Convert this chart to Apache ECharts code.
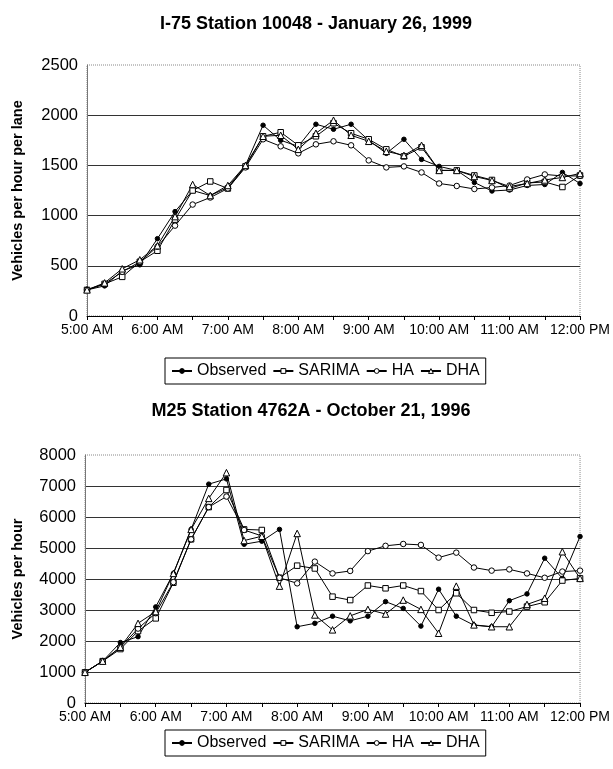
<!DOCTYPE html>
<html>
<head>
<meta charset="utf-8">
<script src="https://cdn.jsdelivr.net/npm/echarts@6/dist/echarts.min.js"></script>
<style>
html,body{margin:0;padding:0;background:#fff;}
#c{width:613px;height:769px;}
</style>
</head>
<body>
<div id="c"></div>
<script>
const times = ['5:00 AM','5:15 AM','5:30 AM','5:45 AM','6:00 AM','6:15 AM','6:30 AM','6:45 AM','7:00 AM','7:15 AM','7:30 AM','7:45 AM','8:00 AM','8:15 AM','8:30 AM','8:45 AM','9:00 AM','9:15 AM','9:30 AM','9:45 AM','10:00 AM','10:15 AM','10:30 AM','10:45 AM','11:00 AM','11:15 AM','11:30 AM','11:45 AM','12:00 PM'];

// I-75 Station 10048 - January 26, 1999
const i75Observed = [260, 300, 450, 510, 770, 1040, 1250, 1200, 1280, 1500, 1900, 1750, 1690, 1910, 1860, 1910, 1750, 1620, 1760, 1560, 1490, 1450, 1330, 1245, 1255, 1300, 1310, 1430, 1320];
const i75Sarima   = [260, 320, 390, 540, 650, 960, 1250, 1340, 1270, 1490, 1790, 1830, 1700, 1790, 1920, 1820, 1760, 1660, 1590, 1680, 1450, 1450, 1400, 1355, 1270, 1325, 1335, 1285, 1400];
const i75HA       = [260, 320, 440, 540, 690, 900, 1110, 1180, 1270, 1480, 1760, 1690, 1620, 1710, 1740, 1700, 1550, 1480, 1490, 1430, 1320, 1295, 1265, 1280, 1300, 1360, 1410, 1395, 1395];
const i75DHA      = [260, 330, 470, 560, 700, 990, 1310, 1200, 1300, 1500, 1790, 1800, 1660, 1820, 1950, 1800, 1740, 1640, 1600, 1700, 1450, 1450, 1390, 1350, 1290, 1320, 1355, 1380, 1420];

// M25 Station 4762A - October 21, 1996
const m25Observed = [990, 1350, 1950, 2140, 3100, 4180, 5600, 7060, 7230, 5120, 5220, 5600, 2460, 2570, 2800, 2650, 2800, 3270, 3050, 2480, 3670, 2800, 2510, 2460, 3300, 3520, 4670, 4020, 5370];
const m25Sarima   = [990, 1350, 1740, 2320, 2730, 3880, 5280, 6320, 6870, 5600, 5580, 4040, 4430, 4340, 3430, 3320, 3790, 3700, 3790, 3610, 3000, 3540, 3000, 2910, 2950, 3110, 3250, 3950, 4020];
const m25HA       = [990, 1350, 1800, 2400, 2900, 3900, 5280, 6320, 6660, 5580, 5390, 4040, 3860, 4560, 4180, 4260, 4900, 5070, 5130, 5100, 4690, 4850, 4370, 4270, 4310, 4180, 4040, 4240, 4270];
const m25DHA      = [990, 1350, 1800, 2570, 2950, 4180, 5600, 6600, 7430, 5240, 5380, 3770, 5470, 2840, 2360, 2810, 3020, 2870, 3320, 3020, 2250, 3770, 2520, 2460, 2460, 3180, 3380, 4880, 4020];

const seriesNames = ['Observed', 'SARIMA', 'HA', 'DHA'];
const yTop = {min: 0, max: 2500, interval: 500};
const yBot = {min: 0, max: 8000, interval: 1000};

const FONT = '"Liberation Sans", Arial, sans-serif';
const symbols = {
  'Observed': {symbol: 'circle', symbolSize: 4.5, fill: '#000'},
  'SARIMA': {symbol: 'rect', symbolSize: 5.5, fill: '#fff'},
  'HA': {symbol: 'circle', symbolSize: 5.5, fill: '#fff'},
  'DHA': {symbol: 'triangle', symbolSize: 6.5, fill: '#fff'}
};

function mkSeries(name, data, idx) {
  const s = symbols[name];
  return {
    name: name, type: 'line', data: data,
    xAxisIndex: idx, yAxisIndex: idx,
    symbol: s.symbol, symbolSize: s.symbolSize, showAllSymbol: true,
    lineStyle: {color: '#000', width: 1},
    itemStyle: {color: s.fill, borderColor: '#000', borderWidth: 1},
    emphasis: {disabled: true}
  };
}

function xAxis(gridIndex) {
  return {
    type: 'category', gridIndex: gridIndex, data: times, boundaryGap: false,
    axisLine: {lineStyle: {color: '#000', width: 1}},
    axisTick: {interval: 1, length: 4, lineStyle: {color: '#000'}},
    axisLabel: {interval: 3, color: '#000', fontSize: 14, fontFamily: FONT, margin: 7},
    splitLine: {show: false}
  };
}
function yAxis(gridIndex, r, name, gap) {
  return {
    type: 'value', gridIndex: gridIndex, min: r.min, max: r.max, interval: r.interval,
    name: name, nameLocation: 'middle', nameGap: gap, nameRotate: 90,
    nameTextStyle: {color: '#000', fontSize: 14.5, fontWeight: 'bold', fontFamily: FONT},
    axisLine: {show: true, lineStyle: {color: '#777', width: 1}},
    axisTick: {show: false},
    axisLabel: {color: '#000', fontSize: 16.5, fontFamily: FONT, margin: 9, formatter: function (v) { return String(v); }},
    splitLine: {show: true, showMaxLine: false, lineStyle: {color: '#333', width: 1}}
  };
}
function legend(top) {
  return {
    data: seriesNames.map(function (n) {
      return {name: n, itemStyle: {color: symbols[n].fill, borderColor: '#000', borderWidth: 1}};
    }),
    top: top, left: 165,
    orient: 'horizontal', itemWidth: 20, itemHeight: 6, itemGap: 6,
    padding: [5, 6], borderColor: '#000', borderWidth: 1,
    textStyle: {color: '#000', fontSize: 16, fontFamily: FONT, padding: [0, 0, 0, 0]},
    selectedMode: false
  };
}

const chart = echarts.init(document.getElementById('c'), null, {renderer: 'canvas'});
chart.setOption({
  animation: false,
  backgroundColor: '#fff',
  title: [
    {text: 'I-75 Station 10048 - January 26, 1999', left: 311, textAlign: 'center', top: 10,
     textStyle: {fontSize: 18, fontWeight: 'bold', color: '#000', fontFamily: FONT}},
    {text: 'M25 Station 4762A - October 21, 1996', left: 306, textAlign: 'center', top: 397,
     textStyle: {fontSize: 18, fontWeight: 'bold', color: '#000', fontFamily: FONT}}
  ],
  legend: [legend(358), legend(730)],
  grid: [
    {left: 87, right: 33, top: 65, height: 251, show: true, borderColor: '#888', borderWidth: 1, borderType: 'dotted', containLabel: false},
    {left: 85, right: 31, top: 455, height: 248, show: true, borderColor: '#888', borderWidth: 1, borderType: 'dotted', containLabel: false}
  ],
  xAxis: [xAxis(0), xAxis(1)],
  yAxis: [yAxis(0, yTop, 'Vehicles per hour per lane', 62), yAxis(1, yBot, 'Vehicles per hour', 60)],
  series: [
    mkSeries('Observed', i75Observed, 0),
    mkSeries('SARIMA', i75Sarima, 0),
    mkSeries('HA', i75HA, 0),
    mkSeries('DHA', i75DHA, 0),
    mkSeries('Observed', m25Observed, 1),
    mkSeries('SARIMA', m25Sarima, 1),
    mkSeries('HA', m25HA, 1),
    mkSeries('DHA', m25DHA, 1)
  ]
});
</script>
</body>
</html>
